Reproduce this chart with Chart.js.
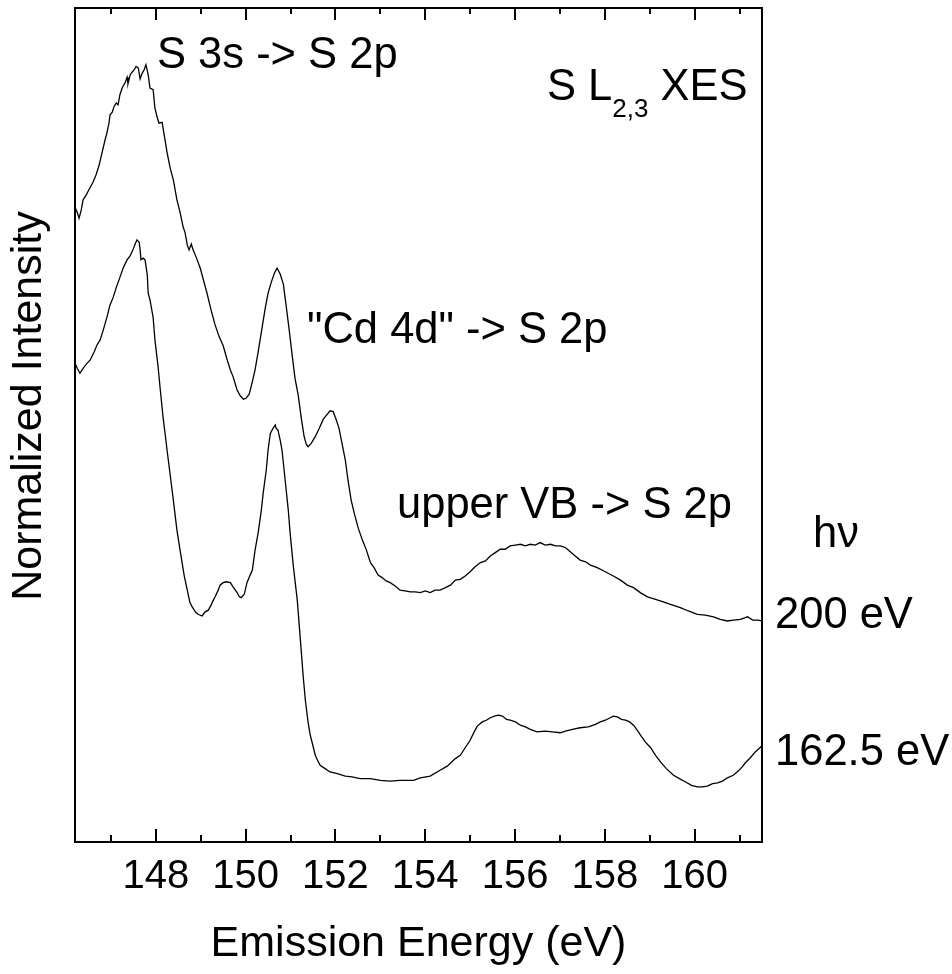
<!DOCTYPE html>
<html>
<head>
<meta charset="utf-8">
<script src="https://cdn.jsdelivr.net/npm/chart.js@4.4.1/dist/chart.umd.min.js"></script>
<style>
  html, body { margin: 0; padding: 0; background: #ffffff; }
  #wrap { width: 952px; height: 974px; position: relative; }
</style>
</head>
<body>
<div id="wrap"><canvas id="c" width="952" height="974"></canvas></div>
<script>
// ---- Data ----
// hv = 200 eV spectrum
const energy200 = [146.20,146.25,146.29,146.34,146.38,146.45,146.51,146.60,146.67,146.74,
146.80,146.87,146.91,146.96,146.98,147.03,147.07,147.12,147.16,147.20,
147.25,147.29,147.32,147.36,147.38,147.43,147.47,147.52,147.56,147.61,
147.65,147.69,147.74,147.78,147.83,147.87,147.94,147.98,148.03,148.07,
148.14,148.18,148.25,148.32,148.39,148.47,148.54,148.61,148.65,148.70,
148.74,148.79,148.83,148.90,148.99,149.05,149.14,149.23,149.32,149.41,
149.50,149.59,149.66,149.72,149.81,149.88,149.95,150.01,150.08,150.15,
150.21,150.28,150.37,150.44,150.50,150.57,150.64,150.70,150.77,150.84,
150.90,150.97,151.04,151.10,151.17,151.24,151.30,151.35,151.39,151.46,
151.55,151.64,151.73,151.82,151.88,151.95,152.02,152.08,152.15,152.22,
152.28,152.35,152.42,152.51,152.60,152.69,152.78,152.86,152.95,153.04,
153.13,153.22,153.33,153.44,153.55,153.67,153.78,153.89,154.00,154.11,
154.22,154.33,154.45,154.56,154.67,154.78,154.89,155.00,155.11,155.23,
155.34,155.45,155.56,155.67,155.78,155.89,156.01,156.12,156.23,156.34,
156.45,156.56,156.67,156.79,156.90,157.01,157.12,157.23,157.34,157.45,
157.57,157.68,157.83,158.01,158.19,158.35,158.50,158.64,158.79,158.95,
159.13,159.30,159.46,159.68,159.86,160.06,160.24,160.42,160.57,160.73,
160.86,161.02,161.18,161.29,161.40,161.51];
const intensity200 = [0.761,0.755,0.748,0.758,0.770,0.776,0.782,0.791,0.800,0.812,
0.826,0.842,0.850,0.863,0.872,0.875,0.882,0.886,0.884,0.896,
0.904,0.908,0.911,0.917,0.909,0.920,0.923,0.926,0.930,0.928,
0.915,0.921,0.926,0.932,0.920,0.904,0.902,0.880,0.869,0.862,
0.863,0.850,0.827,0.808,0.794,0.770,0.755,0.737,0.731,0.716,
0.710,0.717,0.710,0.701,0.688,0.676,0.658,0.638,0.620,0.606,
0.595,0.578,0.566,0.558,0.542,0.535,0.531,0.532,0.537,0.552,
0.566,0.588,0.618,0.641,0.658,0.671,0.682,0.688,0.681,0.669,
0.644,0.614,0.582,0.556,0.536,0.508,0.487,0.477,0.474,0.478,
0.486,0.496,0.507,0.513,0.517,0.516,0.506,0.496,0.477,0.458,
0.434,0.410,0.394,0.376,0.362,0.350,0.335,0.329,0.320,0.317,
0.313,0.311,0.307,0.302,0.301,0.300,0.300,0.299,0.301,0.299,
0.302,0.302,0.305,0.308,0.314,0.315,0.319,0.324,0.330,0.335,
0.337,0.343,0.347,0.351,0.351,0.355,0.356,0.357,0.355,0.357,
0.356,0.359,0.356,0.357,0.355,0.355,0.353,0.348,0.343,0.338,
0.336,0.332,0.329,0.324,0.319,0.314,0.308,0.305,0.299,0.294,
0.291,0.288,0.285,0.281,0.277,0.273,0.272,0.270,0.267,0.265,
0.266,0.267,0.270,0.266,0.266,0.265];

// hv = 162.5 eV spectrum
const energy1625 = [146.20,146.25,146.31,146.38,146.45,146.54,146.63,146.69,146.76,146.83,
146.91,146.98,147.05,147.12,147.20,147.27,147.36,147.43,147.49,147.54,
147.58,147.63,147.65,147.67,147.72,147.76,147.81,147.83,147.87,147.94,
147.98,148.05,148.10,148.16,148.21,148.25,148.32,148.39,148.47,148.54,
148.63,148.70,148.76,148.81,148.88,148.94,149.03,149.10,149.17,149.23,
149.28,149.32,149.39,149.43,149.50,149.57,149.66,149.72,149.81,149.86,
149.90,149.97,150.03,150.10,150.15,150.21,150.28,150.35,150.39,150.46,
150.50,150.55,150.61,150.66,150.68,150.72,150.77,150.81,150.88,150.95,
150.99,151.06,151.15,151.22,151.28,151.33,151.39,151.44,151.51,151.55,
151.62,151.66,151.77,151.88,152.04,152.22,152.37,152.55,152.78,153.00,
153.22,153.44,153.74,153.89,154.11,154.33,154.49,154.67,154.78,154.89,
155.00,155.09,155.16,155.27,155.36,155.45,155.54,155.63,155.72,155.81,
155.89,156.01,156.12,156.23,156.34,156.49,156.67,156.83,157.01,157.12,
157.28,157.45,157.63,157.79,157.90,158.01,158.12,158.19,158.28,158.37,
158.46,158.55,158.64,158.72,158.81,158.90,159.02,159.13,159.24,159.37,
159.53,159.66,159.80,159.93,160.06,160.17,160.28,160.40,160.51,160.62,
160.73,160.86,160.97,161.06,161.13,161.24,161.35,161.47,161.51];
const intensity1625 = [0.574,0.568,0.562,0.568,0.573,0.578,0.588,0.596,0.602,0.614,
0.629,0.644,0.653,0.665,0.677,0.688,0.698,0.703,0.710,0.717,
0.722,0.719,0.710,0.698,0.700,0.698,0.680,0.658,0.650,0.629,
0.602,0.570,0.542,0.510,0.488,0.470,0.440,0.410,0.374,0.350,
0.320,0.302,0.287,0.282,0.276,0.273,0.271,0.276,0.278,0.284,
0.290,0.294,0.302,0.308,0.311,0.312,0.311,0.306,0.299,0.294,
0.293,0.297,0.311,0.320,0.326,0.350,0.371,0.398,0.418,0.446,
0.470,0.490,0.496,0.500,0.496,0.494,0.482,0.470,0.434,0.398,
0.371,0.332,0.290,0.242,0.200,0.170,0.144,0.128,0.113,0.104,
0.096,0.092,0.088,0.084,0.082,0.079,0.078,0.076,0.076,0.074,
0.073,0.074,0.074,0.077,0.079,0.086,0.091,0.100,0.104,0.113,
0.122,0.132,0.139,0.144,0.146,0.149,0.151,0.152,0.151,0.147,
0.146,0.144,0.140,0.138,0.135,0.132,0.133,0.132,0.131,0.133,
0.135,0.137,0.138,0.141,0.144,0.146,0.149,0.151,0.150,0.147,
0.146,0.144,0.140,0.134,0.127,0.120,0.113,0.104,0.096,0.088,
0.080,0.076,0.072,0.068,0.066,0.066,0.067,0.070,0.071,0.073,
0.077,0.080,0.085,0.090,0.095,0.101,0.108,0.114,0.116];

const majorTicks = [148, 150, 152, 154, 156, 158, 160];
const minorTicks = [147, 149, 151, 153, 155, 157, 159, 161];
const xMin = 146.2, xMax = 161.5;
const yMin = 0, yMax = 1;

const FONT = "'Liberation Sans', Arial, Helvetica, sans-serif";

function toPoints(xs, ys) { return xs.map((x, i) => ({ x: x, y: ys[i] })); }

// Inward tick marks drawn through the library's x scale
const tickPlugin = {
  id: 'inwardTicks',
  afterDraw(chart) {
    const ctx = chart.ctx;
    const xs = chart.scales.x;
    const area = chart.chartArea;
    ctx.save();
    ctx.strokeStyle = '#000';
    ctx.lineWidth = 2;
    const draw = (vals, lenB, lenT) => {
      vals.forEach(v => {
        const px = Math.round(xs.getPixelForValue(v));
        ctx.beginPath();
        ctx.moveTo(px, area.bottom);
        ctx.lineTo(px, area.bottom - lenB);
        ctx.moveTo(px, area.top);
        ctx.lineTo(px, area.top + lenT);
        ctx.stroke();
      });
    };
    draw(majorTicks, 13, 12);
    draw(minorTicks, 7, 6);
    ctx.restore();
  }
};

// Text annotations and the y-axis title
const textPlugin = {
  id: 'annotations',
  afterDraw(chart) {
    const ctx = chart.ctx;
    ctx.save();
    ctx.fillStyle = '#000';
    ctx.textBaseline = 'alphabetic';
    ctx.textAlign = 'left';
    const big = "43.5px " + FONT;
    const sub = "26px " + FONT;
    ctx.font = big;
    ctx.fillText('S 3s -> S 2p', 157, 68);
    ctx.fillText('"Cd 4d" -> S 2p', 307, 343);
    ctx.fillText('upper VB -> S 2p', 397, 518);
    ctx.fillText('h\u03BD', 813, 547);
    ctx.fillText('200 eV', 775, 628);
    ctx.fillText('162.5 eV', 775, 765);
    let x = 547;
    ctx.fillText('S L', x, 100);
    x += ctx.measureText('S L').width;
    ctx.font = sub;
    ctx.fillText('2,3', x, 117);
    x += ctx.measureText('2,3').width;
    ctx.font = big;
    ctx.fillText(' XES', x, 100);
    // y-axis title, rotated
    ctx.translate(29, 406);
    ctx.rotate(-Math.PI / 2);
    ctx.textAlign = 'center';
    ctx.textBaseline = 'middle';
    ctx.font = "43px " + FONT;
    ctx.fillText('Normalized Intensity', 0, 0);
    ctx.restore();
  }
};

const ctx = document.getElementById('c').getContext('2d');
new Chart(ctx, {
  type: 'line',
  data: {
    datasets: [
      { label: '200 eV', data: toPoints(energy200, intensity200), borderColor: '#000', borderWidth: 1.3, pointRadius: 0, fill: false, tension: 0 },
      { label: '162.5 eV', data: toPoints(energy1625, intensity1625), borderColor: '#000', borderWidth: 1.3, pointRadius: 0, fill: false, tension: 0 }
    ]
  },
  options: {
    responsive: false,
    devicePixelRatio: 1,
    animation: false,
    events: [],
    layout: { padding: 0 },
    plugins: { legend: { display: false }, tooltip: { enabled: false } },
    scales: {
      x: {
        type: 'linear', position: 'bottom', min: xMin, max: xMax,
        afterBuildTicks: (s) => { s.ticks = majorTicks.map(v => ({ value: v })); },
        afterFit: (s) => { s.height = 974 - 842; },
        grid: { display: false, drawTicks: false },
        border: { display: true, color: '#000', width: 2 },
        ticks: { color: '#000', font: { family: FONT, size: 40 }, padding: 11, maxRotation: 0, autoSkip: false },
        title: { display: true, text: 'Emission Energy (eV)', color: '#000', font: { family: FONT, size: 43 }, padding: { top: 0, bottom: 4 } }
      },
      x2: {
        type: 'linear', position: 'top', min: xMin, max: xMax,
        afterFit: (s) => { s.height = 8; },
        grid: { display: false, drawTicks: false },
        border: { display: true, color: '#000', width: 2 },
        ticks: { display: false }
      },
      y: {
        type: 'linear', position: 'left', min: yMin, max: yMax,
        afterFit: (s) => { s.width = 75; },
        grid: { display: false, drawTicks: false },
        border: { display: true, color: '#000', width: 2 },
        ticks: { display: false }
      },
      y2: {
        type: 'linear', position: 'right', min: yMin, max: yMax,
        afterFit: (s) => { s.width = 952 - 762; },
        grid: { display: false, drawTicks: false },
        border: { display: true, color: '#000', width: 2 },
        ticks: { display: false }
      }
    }
  },
  plugins: [tickPlugin, textPlugin]
});
</script>
</body>
</html>
